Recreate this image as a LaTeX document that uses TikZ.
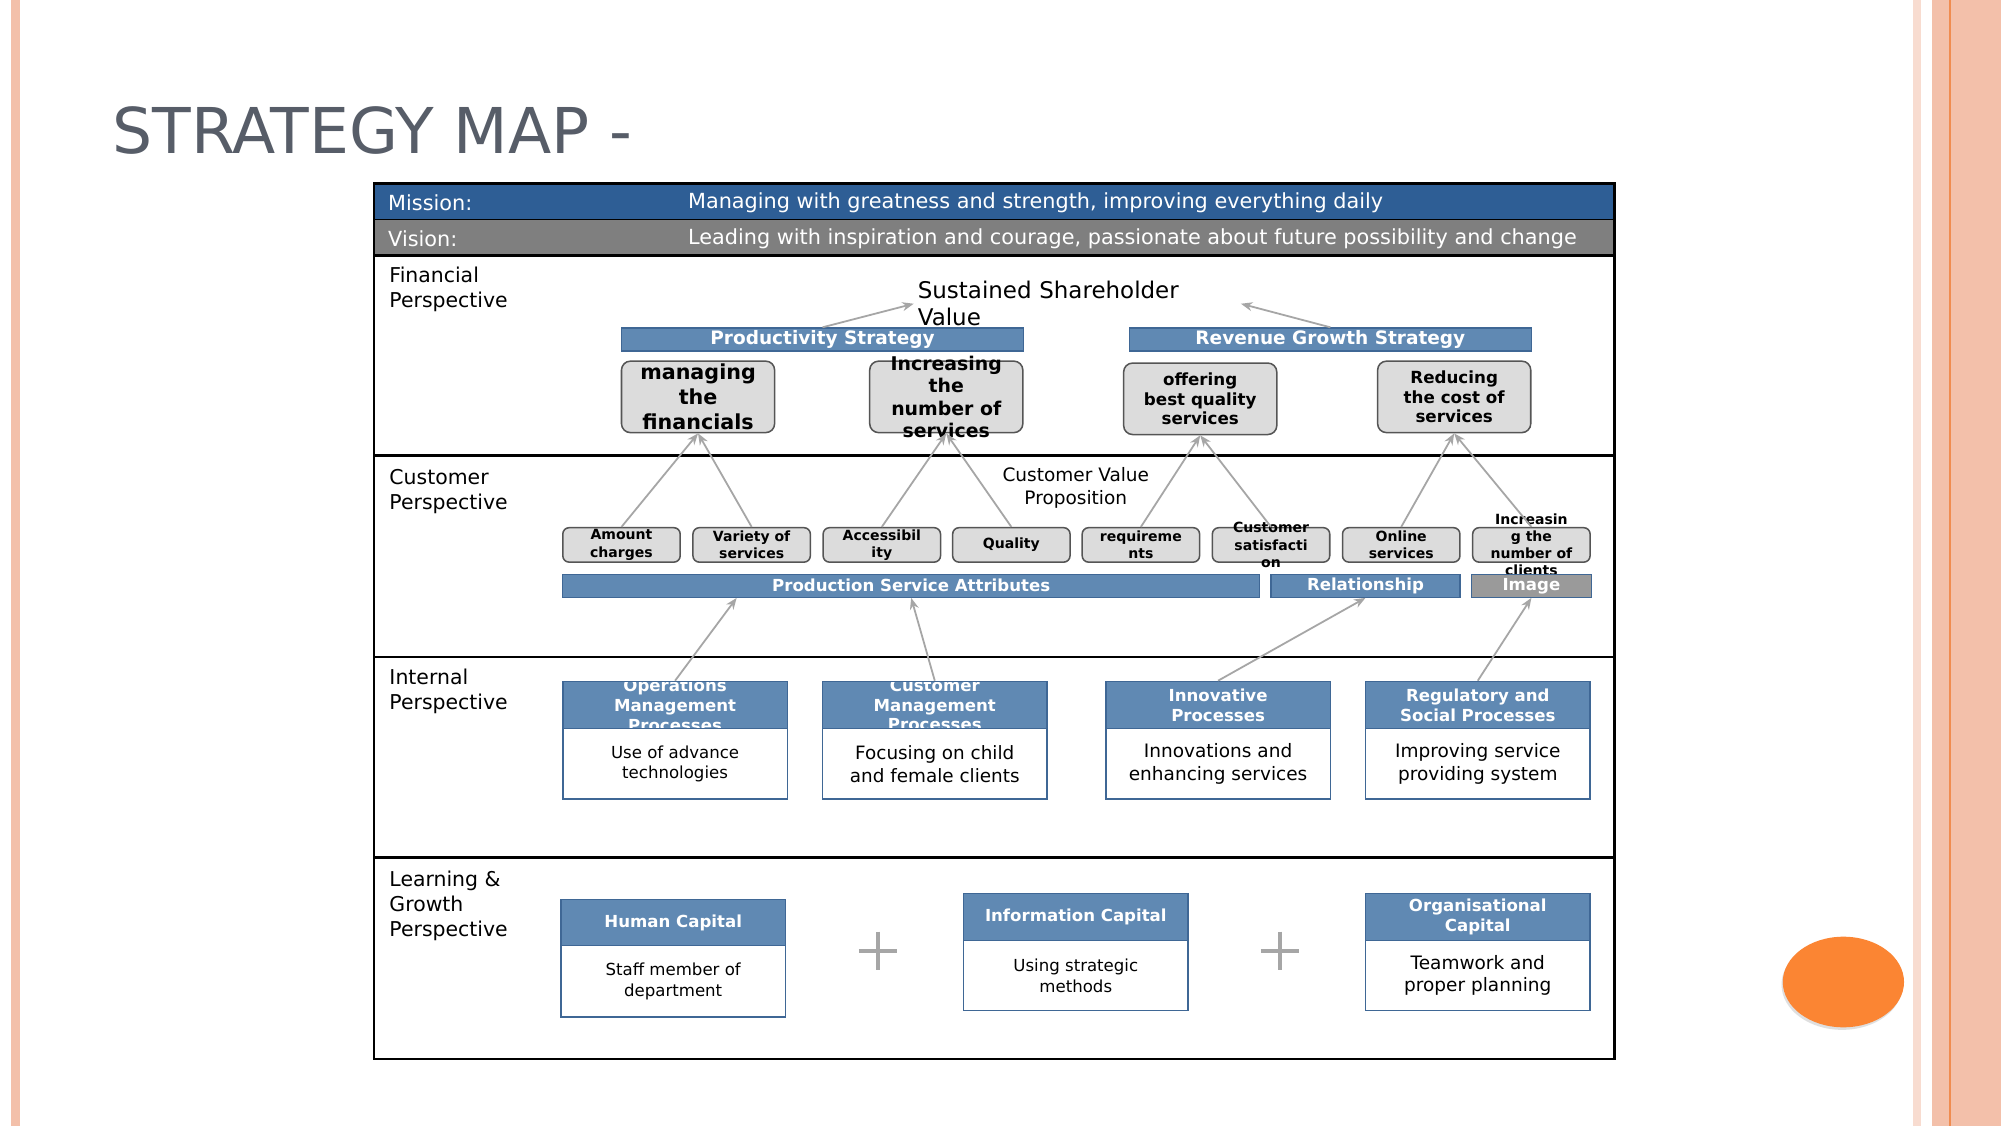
\documentclass[tikz,border=0pt]{standalone}
\usepackage{fontspec}
\setmainfont{DejaVu Sans}
\usetikzlibrary{arrows.meta,shadows,calc}

\definecolor{missionblue}{HTML}{2E5E95}
\definecolor{visiongray}{HTML}{7F7F7F}
\definecolor{barblue}{HTML}{6089B3}
\definecolor{barline}{HTML}{3F6795}
\definecolor{goalgray}{HTML}{DCDCDC}
\definecolor{goalline}{HTML}{555555}
\definecolor{linkgray}{HTML}{A6A6A6}
\definecolor{titlegray}{HTML}{575D68}
\definecolor{stripe}{HTML}{F3C0AA}
\definecolor{stripeline}{HTML}{F08C50}
\definecolor{dotorange}{HTML}{FB8533}
\definecolor{imagegray}{HTML}{9A9A9A}

\begin{document}
\begin{tikzpicture}[x=1pt,y=-1pt,
    >={Stealth[length=9pt,width=7pt]},
    bar/.style={draw=barline,fill=barblue,text=white,line width=1pt,inner sep=0pt,minimum height=18pt,font=\bfseries\fontsize{13}{15}\selectfont},
    goal/.style={draw=goalline,fill=goalgray,rounded corners=7pt,line width=1.2pt,align=center,inner sep=0pt,minimum width=120pt,minimum height=56pt},
    goaltext/.style={align=center,inner sep=0pt},
    attr/.style={draw=goalline,fill=goalgray,rounded corners=5pt,line width=1.2pt,align=center,inner sep=0pt,minimum width=92pt,minimum height=27pt,font=\bfseries\fontsize{11}{13.5}\selectfont},
    attrtext/.style={align=center,inner sep=0pt,font=\bfseries\fontsize{11}{13.5}\selectfont},
    headtext/.style={text=white,align=center,inner sep=0pt,minimum width=0pt,minimum height=0pt,font=\bfseries\fontsize{13}{15.5}\selectfont},
    head/.style={draw=barline,fill=barblue,line width=1.2pt,inner sep=0pt,minimum width=176pt,minimum height=37pt,
        path picture={\node[headtext] at (path picture bounding box.center) {#1};}},
    body/.style={draw=barline,fill=white,line width=1.2pt,inner sep=0pt,minimum width=176pt,minimum height=55pt,align=center,font=\fontsize{13}{16}\selectfont},
    rowlabel/.style={anchor=west,align=left,inner sep=0pt,font=\fontsize{16}{19.5}\selectfont},
    bartext/.style={anchor=west,inner sep=0pt,text=white,font=\fontsize{16.3}{19}\selectfont},
    link/.style={->,draw=linkgray,line width=1.4pt},
    plusline/.style={draw=linkgray,line width=3.5pt}
]
\useasboundingbox (0,0) rectangle (1568,882);
\fill[white] (0,0) rectangle (1568,882);

% slide decoration
\fill[stripe] (9,0) rectangle (16,882);
\fill[stripe!55] (1499,0) rectangle (1505,882);
\fill[stripe] (1514,0) rectangle (1568,882);
\draw[stripeline,line width=1.2pt] (1528,0) -- (1528,882);
\fill[dotorange,drop shadow={opacity=0.25,shadow xshift=-1pt,shadow yshift=-2pt}] (1444.5,769.5) ellipse (47.5 and 35.5);

\node[anchor=base west,inner sep=0pt,text=titlegray,font=\fontsize{49.5}{60}\selectfont] (title) at (88,120) {STRATEGY MAP -};

% table
\fill[missionblue] (293,144) rectangle (1265,172);
\fill[visiongray] (293,172) rectangle (1265,200);
\node[bartext] (mission) at (304,159) {Mission:};
\node[bartext] (missiontext) at (539,159) {Managing with greatness and strength, improving everything daily};
\node[bartext] (vision) at (304,187) {Vision:};
\node[bartext] (visiontext) at (539,187) {Leading with inspiration and courage, passionate about future possibility and change};
\draw[line width=1.5pt] (293,172) -- (1265,172);
\draw[line width=2pt] (293,200) -- (1265,200);
\draw[line width=2pt] (293,357) -- (1265,357);
\draw[line width=2pt] (293,515) -- (1265,515);
\draw[line width=2pt] (293,672) -- (1265,672);
\draw[line width=2pt] (293,144) rectangle (1265,830);

\node[rowlabel] (finlabel) at (305,227) {Financial\\Perspective};
\node[rowlabel] (custlabel) at (305,385) {Customer\\Perspective};
\node[rowlabel] (intlabel) at (305,542) {Internal\\Perspective};
\node[rowlabel] (learnlabel) at (305,710) {Learning \&\\Growth\\Perspective};

% financial perspective
\node[anchor=west,align=left,inner sep=3pt,text width=250pt,font=\fontsize{18}{21}\selectfont] (ssv) at (716,238) {Sustained Shareholder\\Value};
\node[bar,minimum width=315pt,font=\bfseries\fontsize{14.5}{16}\selectfont] (prod) at (644.5,266) {Productivity Strategy};
\node[bar,minimum width=315pt,font=\bfseries\fontsize{14.5}{16}\selectfont] (rev) at (1042.5,266) {Revenue Growth Strategy};
\node[goal,font=\bfseries\fontsize{16.2}{19.5}\selectfont] (manage) at (547,311) {managing\\the\\financials};
\node[goal] (grow) at (741.5,311) {};
\node[goaltext,font=\bfseries\fontsize{14.8}{17.7}\selectfont] (growtext) at (grow.center) {Increasing\\the\\number of\\services};
\node[goal,font=\bfseries\fontsize{13.1}{15.5}\selectfont] (offer) at (940.5,312.5) {offering\\best quality\\services};
\node[goal,font=\bfseries\fontsize{13.1}{15.5}\selectfont] (reduce) at (1139.5,311) {Reducing\\the cost of\\services};
\draw[link] (prod.north) -- (ssv.west);
\draw[link] (rev.north) -- (ssv.east);

% customer perspective
\node[align=center,inner sep=0pt,font=\fontsize{14.5}{18}\selectfont] (cvp) at (843,382) {Customer Value\\Proposition};
\node[attr] (amount) at (487,427) {Amount\\charges};
\node[attr] (variety) at (589,427) {Variety of\\services};
\node[attr] (access) at (691,427) {Accessibil\\ity};
\node[attr] (quality) at (792.5,427) {Quality};
\node[attr] (require) at (894,427) {requireme\\nts};
\node[attr] (satisfy) at (996,427) {};
\node[attrtext] (satisfytext) at (satisfy.center) {Customer\\satisfacti\\on};
\node[attr] (online) at (1098,427) {Online\\services};
\node[attr] (clients) at (1200,427) {};
\node[attrtext] (clientstext) at (clients.center) {Increasin\\g the\\number of\\clients};
\node[bar,minimum width=546pt] (psa) at (714,459) {Production Service Attributes};
\node[bar,minimum width=148pt] (rel) at (1070,459) {Relationship};
\node[bar,minimum width=94pt,fill=imagegray] (image) at (1200,459) {Image};
\draw[link] (amount.north) -- (manage.south);
\draw[link] (variety.north) -- (manage.south);
\draw[link] (access.north) -- (grow.south);
\draw[link] (quality.north) -- (grow.south);
\draw[link] (require.north) -- (offer.south);
\draw[link] (satisfy.north) -- (offer.south);
\draw[link] (online.north) -- (reduce.south);
\draw[link] (clients.north) -- (reduce.south);

% internal perspective
\node[head={Operations\\Management\\Processes}] (opsh) at (529,552.5) {};
\node[body] (opsb) at (529,598.5) {Use of advance\\technologies};
\node[head={Customer\\Management\\Processes}] (cmph) at (732.5,552.5) {};
\node[body,font=\fontsize{14.4}{18}\selectfont] (cmpb) at (732.5,598.5) {Focusing on child\\and female clients};
\node[head={Innovative\\Processes}] (innoh) at (954.5,552.5) {};
\node[body,font=\fontsize{14.5}{18}\selectfont] (innob) at (954.5,598.5) {Innovations and\\enhancing services};
\node[head={Regulatory and\\Social Processes}] (regh) at (1158,552.5) {};
\node[body,font=\fontsize{14.5}{18}\selectfont] (regb) at (1158,598.5) {Improving service\\providing system};
\draw[link] (opsh.north) -- ($(psa.south west)!.25!(psa.south east)$);
\draw[link] (cmph.north) -- (psa.south);
\draw[link] (innoh.north) -- (rel.south);
\draw[link] (regh.north) -- (image.south);

% learning and growth perspective
\node[head={Human Capital},minimum height=36pt] (humanh) at (527.5,723) {};
\node[body,minimum height=56pt] (humanb) at (527.5,769) {Staff member of\\department};
\node[head={Information Capital}] (infoh) at (843,718.5) {};
\node[body] (infob) at (843,764.5) {Using strategic\\methods};
\node[head={Organisational\\Capital}] (orgh) at (1158,718.5) {};
\node[body,font=\fontsize{14.5}{17}\selectfont] (orgb) at (1158,764.5) {Teamwork and\\proper planning};
\draw[plusline] (673,745) -- (703,745) (688,730) -- (688,760);
\draw[plusline] (988,745) -- (1018,745) (1003,730) -- (1003,760);
\end{tikzpicture}
\end{document}
